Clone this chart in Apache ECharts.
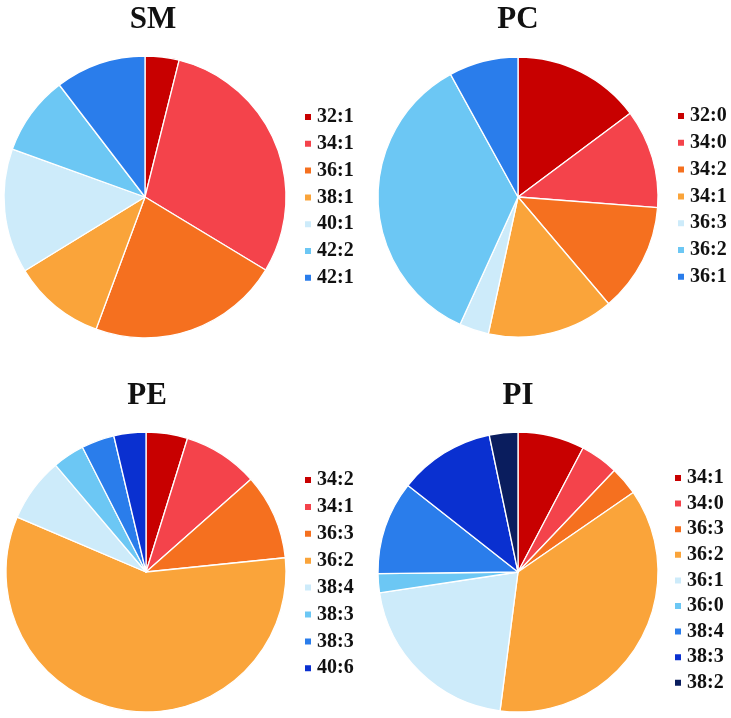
<!DOCTYPE html>
<html>
<head>
<meta charset="utf-8">
<script src="https://cdn.jsdelivr.net/npm/echarts@6/dist/echarts.min.js"></script>
<style>
html,body{margin:0;padding:0;background:#fff;}
#chart{width:731px;height:718px;}
</style>
</head>
<body>
<div id="chart"></div>
<script>
// ---- data (percent shares) ----
const smLabels = ['32:1','34:1','36:1','38:1','40:1','42:2','42:1'];
const smValues = [3.9, 29.8, 22.0, 10.6, 14.3, 9.1, 10.4];

const pcLabels = ['32:0','34:0','34:2','34:1','36:3','36:2','36:1'];
const pcValues = [14.8, 11.4, 12.6, 14.6, 3.4, 35.2, 8.0];

const peLabels = ['34:2','34:1','36:3','36:2','38:4','38:3','38:3','40:6'];
const peValues = [4.8, 8.7, 9.9, 58.1, 7.4, 3.7, 3.8, 3.7];

const piLabels = ['34:1','34:0','36:3','36:2','36:1','36:0','38:4','38:3','38:2'];
const piValues = [7.7, 4.4, 3.3, 36.7, 20.6, 2.2, 10.8, 11.1, 3.3];

const titles = ['SM','PC','PE','PI'];

// ---- styles ----
const palette = ['#C80000','#F4434B','#F5701F','#FAA43A','#CDEBFA','#6CC7F4','#2A7DEB','#0A30D0','#0A1D5E'];
const serif = '"Liberation Serif","DejaVu Serif",serif';

const panels = [
  {labels: smLabels, values: smValues, center:[145,197], r:141, title:[153,4],   legend:[303,107], gap:6.8},
  {labels: pcLabels, values: pcValues, center:[518,197], r:140, title:[518,4],   legend:[676,106], gap:6.8},
  {labels: peLabels, values: peValues, center:[146,572], r:140, title:[147,380], legend:[303,470], gap:6.9},
  {labels: piLabels, values: piValues, center:[518,572], r:140, title:[518,380], legend:[673,468], gap:5.6}
];

const option = {
  animation:false,
  backgroundColor:'#fff',
  title: panels.map((p,i)=>({
    text: titles[i], left: p.title[0], top: p.title[1], textAlign:'center', padding:0,
    textStyle:{fontFamily:serif, fontWeight:'bold', fontSize:31, color:'#111'}
  })),
  legend: panels.map((p,i)=>({
    orient:'vertical', left:p.legend[0], top:p.legend[1], padding:0,
    itemWidth:8, itemHeight:8, itemGap:p.gap, icon:'rect',
    data: p.labels.map((l,j)=>titles[i]+'|'+j+'|'+l),
    formatter: n => n.split('|')[2],
    selectedMode:false,
    textStyle:{fontFamily:serif, fontWeight:'bold', fontSize:20, color:'#111', lineHeight:20}
  })),
  series: panels.map((p,i)=>({
    type:'pie', center:p.center, radius:p.r, startAngle:90, clockwise:true,
    label:{show:false}, labelLine:{show:false}, silent:true,
    itemStyle:{borderColor:'#fff', borderWidth:1.3},
    data: p.values.map((v,j)=>({name:titles[i]+'|'+j+'|'+p.labels[j], value:v, itemStyle:{color:palette[j]}}))
  }))
};

echarts.init(document.getElementById('chart')).setOption(option);
</script>
</body>
</html>
